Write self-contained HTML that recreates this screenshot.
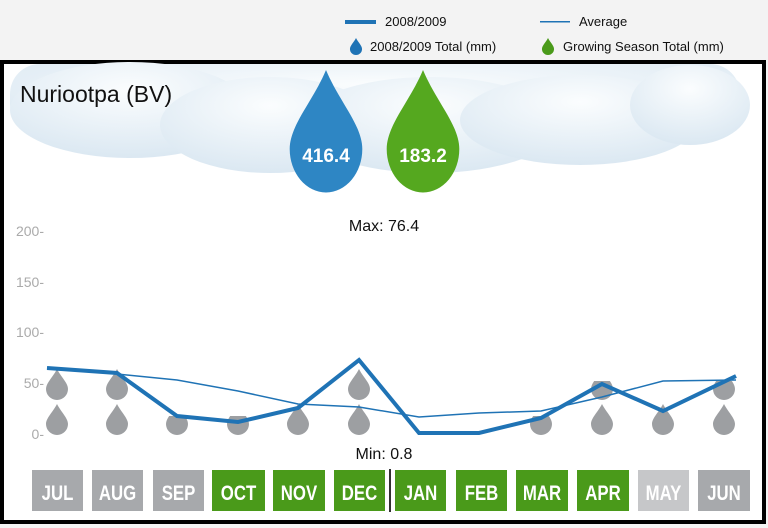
<!DOCTYPE html>
<html><head><style>
html,body{margin:0;padding:0;width:768px;height:528px;overflow:hidden;background:#f4f4f4;font-family:"Liberation Sans",sans-serif}
</style></head><body>
<svg width="768" height="528" viewBox="0 0 768 528" xmlns="http://www.w3.org/2000/svg" font-family="Liberation Sans, sans-serif">
<defs>
<path id="d" d="M0,0 C4,8 11,14 11,20 A11,11 0 0 1 -11,20 C-11,14 -4,8 0,0Z" fill="#9d9fa2"/>
<clipPath id="half"><rect x="-20" y="12" width="40" height="30"/></clipPath>
<radialGradient id="cg" cx="50%" cy="30%" r="70%"><stop offset="0" stop-color="#fbfdfe"/><stop offset="1" stop-color="#dbe8f2"/></radialGradient>
</defs>
<rect x="0" y="0" width="768" height="60" fill="#f3f3f3"/>
<!-- legend -->
<rect x="345" y="20" width="31" height="4" fill="#1f73b5"/>
<text x="385" y="26" font-size="13" fill="#111">2008/2009</text>
<rect x="540" y="21" width="30" height="1.5" fill="#1f73b5"/>
<text x="579" y="26" font-size="13" fill="#111">Average</text>
<path transform="translate(356,38) scale(0.55)" d="M0,0 C4,8 11,14 11,20 A11,11 0 0 1 -11,20 C-11,14 -4,8 0,0Z" fill="#1f73b5"/>
<text x="370" y="51" font-size="13" fill="#111">2008/2009 Total (mm)</text>
<path transform="translate(548,38) scale(0.55)" d="M0,0 C4,8 11,14 11,20 A11,11 0 0 1 -11,20 C-11,14 -4,8 0,0Z" fill="#4a9a1a"/>
<text x="563" y="51" font-size="13" fill="#111">Growing Season Total (mm)</text>
<!-- box -->
<rect x="2" y="62" width="762" height="460" fill="#fff" stroke="#000" stroke-width="4"/>
<!-- cloud -->
<g fill="url(#cg)">
<rect x="10" y="64" width="730" height="70" rx="30"/>
<ellipse cx="130" cy="110" rx="120" ry="48"/>
<ellipse cx="270" cy="125" rx="110" ry="48"/>
<ellipse cx="430" cy="125" rx="130" ry="48"/>
<ellipse cx="580" cy="120" rx="120" ry="45"/>
<ellipse cx="690" cy="105" rx="60" ry="40"/>
</g>
<text x="20" y="102" font-size="23" fill="#111">Nuriootpa (BV)</text>
<path transform="translate(326,70) scale(3.3,3.95)" d="M0,0 C4,8 11,14 11,20 A11,11 0 0 1 -11,20 C-11,14 -4,8 0,0Z" fill="#2e86c4"/>
<path transform="translate(423,70) scale(3.3,3.95)" d="M0,0 C4,8 11,14 11,20 A11,11 0 0 1 -11,20 C-11,14 -4,8 0,0Z" fill="#55a81f"/>
<text x="326" y="162" font-size="19" fill="#fff" text-anchor="middle" font-weight="bold">416.4</text>
<text x="423" y="162" font-size="19" fill="#fff" text-anchor="middle" font-weight="bold">183.2</text>
<text x="384" y="231" font-size="16" fill="#111" text-anchor="middle">Max: 76.4</text>
<text x="384" y="459" font-size="16" fill="#111" text-anchor="middle">Min: 0.8</text>
<!-- y axis -->
<g font-size="14" fill="#aaa" text-anchor="end">
<text x="44" y="236">200-</text><text x="44" y="287">150-</text><text x="44" y="337">100-</text><text x="44" y="388">50-</text><text x="44" y="439">0-</text>
</g>
<!-- drops -->
<g>
<use href="#d" x="57" y="404"/><use href="#d" x="57" y="369"/>
<use href="#d" x="117" y="404"/><use href="#d" x="117" y="369"/>
<g transform="translate(177,404)"><use href="#d" clip-path="url(#half)"/></g>
<g transform="translate(238,404)"><use href="#d" clip-path="url(#half)"/></g>
<use href="#d" x="298" y="404"/>
<use href="#d" x="359" y="404"/><use href="#d" x="359" y="369"/>
<g transform="translate(541,404)"><use href="#d" clip-path="url(#half)"/></g>
<use href="#d" x="602" y="404"/><g transform="translate(602,369)"><use href="#d" clip-path="url(#half)"/></g>
<use href="#d" x="663" y="404"/>
<use href="#d" x="724" y="404"/><g transform="translate(724,369)"><use href="#d" clip-path="url(#half)"/></g>
</g>
<!-- lines -->
<polyline fill="none" stroke="#1f73b5" stroke-width="1.5" points="47,368 117,374 177,380 238,391 298,404 359,407 419,417 479,413 541,411 602,397 663,381 736,380"/>
<polyline fill="none" stroke="#1f73b5" stroke-width="4" stroke-linejoin="miter" points="47,368 117,373 177,416 238,422 298,408 359,360 419,433 479,433 541,418 602,384 663,411 736,376"/>
<!-- months -->
<g font-size="21" font-weight="bold" fill="#fff" text-anchor="middle">
<rect x="32" y="470" width="51" height="41" fill="#a7a9ac"/><text x="57.5" y="500" transform="translate(57.5 0) scale(0.8 1) translate(-57.5 0)">JUL</text>
<rect x="92" y="470" width="51" height="41" fill="#a7a9ac"/><text x="117.5" y="500" transform="translate(117.5 0) scale(0.8 1) translate(-117.5 0)">AUG</text>
<rect x="153" y="470" width="51" height="41" fill="#a7a9ac"/><text x="178.5" y="500" transform="translate(178.5 0) scale(0.8 1) translate(-178.5 0)">SEP</text>
<rect x="212" y="470" width="53" height="41" fill="#4a9a1a"/><text x="238.5" y="500" transform="translate(238.5 0) scale(0.8 1) translate(-238.5 0)">OCT</text>
<rect x="273" y="470" width="52" height="41" fill="#4a9a1a"/><text x="299" y="500" transform="translate(299 0) scale(0.8 1) translate(-299 0)">NOV</text>
<rect x="334" y="470" width="51" height="41" fill="#4a9a1a"/><text x="359.5" y="500" transform="translate(359.5 0) scale(0.8 1) translate(-359.5 0)">DEC</text>
<rect x="389" y="469" width="2" height="43" fill="#333"/>
<rect x="395" y="470" width="51" height="41" fill="#4a9a1a"/><text x="420.5" y="500" transform="translate(420.5 0) scale(0.8 1) translate(-420.5 0)">JAN</text>
<rect x="456" y="470" width="51" height="41" fill="#4a9a1a"/><text x="481.5" y="500" transform="translate(481.5 0) scale(0.8 1) translate(-481.5 0)">FEB</text>
<rect x="516" y="470" width="52" height="41" fill="#4a9a1a"/><text x="542" y="500" transform="translate(542 0) scale(0.8 1) translate(-542 0)">MAR</text>
<rect x="577" y="470" width="52" height="41" fill="#4a9a1a"/><text x="603" y="500" transform="translate(603 0) scale(0.8 1) translate(-603 0)">APR</text>
<rect x="638" y="470" width="51" height="41" fill="#c6c7c9"/><text x="663.5" y="500" transform="translate(663.5 0) scale(0.8 1) translate(-663.5 0)">MAY</text>
<rect x="698" y="470" width="52" height="41" fill="#a7a9ac"/><text x="724" y="500" transform="translate(724 0) scale(0.8 1) translate(-724 0)">JUN</text>
</g>
</svg>
</body></html>
